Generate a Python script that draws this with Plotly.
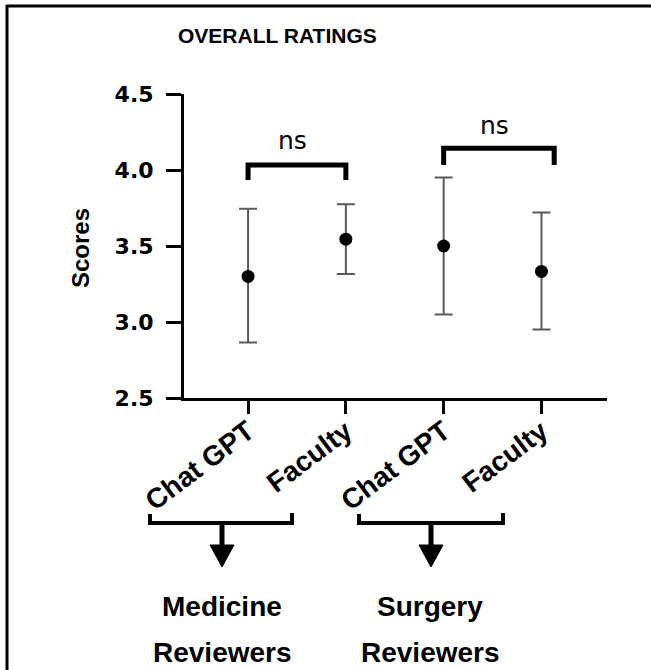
import plotly.graph_objects as go

# ---- data ----
tick_labels = ["Chat GPT", "Faculty", "Chat GPT", "Faculty"]
means = [3.30, 3.545, 3.50, 3.333]
upper = [3.745, 3.775, 3.95, 3.72]
lower = [2.865, 3.315, 3.05, 2.95]
sig_left = [0, 2]
sig_right = [1, 3.13]
sig_top = [4.033, 4.143]
sig_end = [3.935, 4.033]
sig_text = ["ns", "ns"]
sig_text_y = [4.197, 4.296]
group_line1 = ["Medicine", "Surgery"]
group_line2 = ["Reviewers", "Reviewers"]

W, H = 651, 670
L, R, T, B = 184, 44, 94, 272
PW, PH = W - L - R, H - T - B


def px(x):
    return (x - L) / PW


def py(y):
    return (H - B - y) / PH


xpos = list(range(len(means)))
fig = go.Figure()

fig.add_trace(go.Scatter(
    x=xpos, y=means, mode="markers",
    marker=dict(color="black", size=13, symbol="circle"),
    error_y=dict(type="data", symmetric=False,
                 array=[u - m for u, m in zip(upper, means)],
                 arrayminus=[m - l for m, l in zip(means, lower)],
                 color="#5a5a5a", thickness=2, width=9),
    showlegend=False, hoverinfo="skip"))

for xl, xr, yt, ye, txt, ty in zip(sig_left, sig_right, sig_top, sig_end, sig_text, sig_text_y):
    fig.add_trace(go.Scatter(
        x=[xl, xl, xr, xr], y=[ye, yt, yt, ye], mode="lines",
        line=dict(color="black", width=5), showlegend=False, hoverinfo="skip"))
    fig.add_annotation(x=(xl + xr) / 2 - 0.05, y=ty, xref="x", yref="y", text=txt,
                       xanchor="center", yanchor="middle",
                       showarrow=False, font=dict(family="DejaVu Sans", size=25, color="black"))

shapes = []
shapes.append(dict(type="line", xref="paper", yref="paper", x0=px(7), x1=px(7), y0=py(5), y1=py(670),
                   line=dict(color="black", width=3)))
shapes.append(dict(type="line", xref="paper", yref="paper", x0=px(6), x1=px(651), y0=py(6), y1=py(6),
                   line=dict(color="black", width=3)))

gb = [(150, 292, 222), (359, 503, 431)]
for x0, x1, xa in gb:
    shapes.append(dict(type="path", xref="paper", yref="paper",
                       path=f"M {px(x0)} {py(514)} L {px(x0)} {py(523)} L {px(x1)} {py(523)} L {px(x1)} {py(513)}",
                       line=dict(color="black", width=4)))
    shapes.append(dict(type="line", xref="paper", yref="paper", x0=px(xa), x1=px(xa), y0=py(523), y1=py(548),
                       line=dict(color="black", width=5)))
    shapes.append(dict(type="path", xref="paper", yref="paper",
                       path=f"M {px(xa-12)} {py(545)} L {px(xa+12)} {py(545)} L {px(xa)} {py(567)} Z",
                       fillcolor="black", line=dict(color="black", width=1)))

annotations = [
    dict(x=px(277), y=py(35), text="<b>OVERALL RATINGS</b>",
         font=dict(family="Liberation Sans", size=21, color="black")),
    dict(x=px(80), y=py(248), text="<b>Scores</b>", textangle=-90,
         font=dict(family="Liberation Sans", size=24, color="black")),
]
for l1, l2, cx in zip(group_line1, group_line2, [222, 430]):
    annotations.append(dict(x=px(cx), y=py(606), text=f"<b>{l1}</b>",
                            font=dict(family="Liberation Sans", size=28, color="black")))
    annotations.append(dict(x=px(cx), y=py(652), text=f"<b>{l2}</b>",
                            font=dict(family="Liberation Sans", size=28, color="black")))
for a in annotations:
    fig.add_annotation(xref="paper", yref="paper", xanchor="center", yanchor="middle",
                       showarrow=False, **a)

fig.update_layout(
    width=W, height=H, margin=dict(l=L, r=R, t=T, b=B, autoexpand=False),
    paper_bgcolor="white", plot_bgcolor="white", shapes=shapes, showlegend=False,
)
fig.update_xaxes(range=[-0.655, 3.67], tickvals=xpos, ticktext=tick_labels, tickangle=-37,
                 showline=True, linecolor="black", linewidth=3, ticks="outside", ticklen=13,
                 tickwidth=3, tickcolor="black", showgrid=False, zeroline=False,
                 ticklabelstandoff=-10,
                 tickfont=dict(family="Liberation Sans", size=28, color="black", weight="bold"))
fig.update_yaxes(range=[2.5, 4.5], tickvals=[2.5, 3.0, 3.5, 4.0, 4.5], ticktext=["2.5", "3.0", "3.5", "4.0", "4.5"],
                 showline=True, linecolor="black", linewidth=3, ticks="outside", ticklen=15,
                 tickwidth=3, tickcolor="black", showgrid=False, zeroline=False, ticklabelstandoff=8,
                 tickfont=dict(family="DejaVu Sans", size=22, color="black", weight="bold"))

# remove the default 8px page margin so the figure fills the window exactly
fig.write_html("out.html", config={"displayModeBar": False},
               post_script="document.body.style.margin='0';")
